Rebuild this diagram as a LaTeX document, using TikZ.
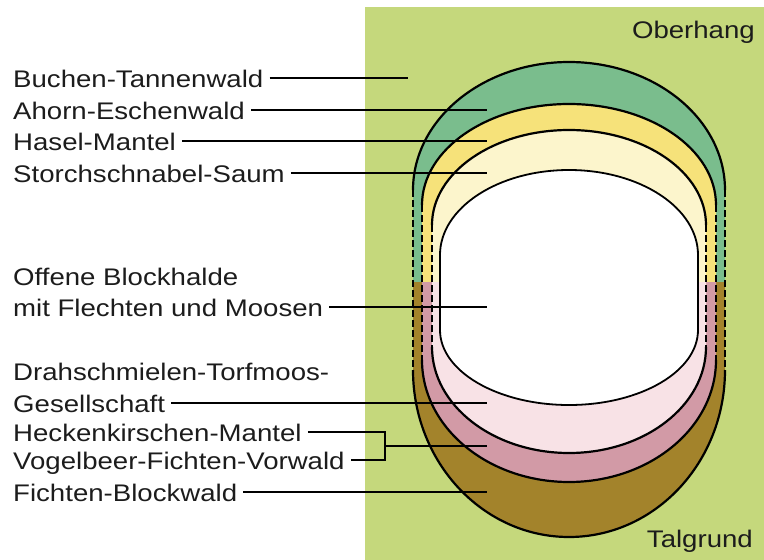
\documentclass[tikz,border=0pt]{standalone}
\usepackage{fontspec}
\setmainfont{Liberation Sans}[FakeStretch=1.15]
\usetikzlibrary{positioning}
\definecolor{slopeBg}{HTML}{C5D87C}
\definecolor{beechGreen}{HTML}{7ABD8D}
\definecolor{hazelYellow}{HTML}{F6E27A}
\definecolor{seamYellow}{HTML}{FCF5CC}
\definecolor{spruceBrown}{HTML}{A3832B}
\definecolor{rowanPink}{HTML}{D29AA6}
\definecolor{mossPink}{HTML}{F8E2E6}
\definecolor{labelInk}{HTML}{1C1C1C}
\tikzset{
  lbl/.style={anchor=base west, font=\fontsize{24}{32}\selectfont, text=labelInk, inner xsep=6pt, inner ysep=0pt, text height=18pt, text depth=0pt},
  cornerlbl/.style={anchor=base east, font=\fontsize{24}{32}\selectfont, text=labelInk, inner sep=0pt},
  leader/.style={draw=black, line width=2.4pt},
  rim/.style={draw=black, line width=2.2pt},
  rimdash/.style={rim, dash pattern=on 7pt off 3pt},
  holeline/.style={draw=black, line width=1.8pt}
}
\begin{document}
\begin{tikzpicture}[x=1pt,y=-1pt]
  \useasboundingbox (0,0) rectangle (764,560);
  \fill[slopeBg] (365,7) rectangle (764,560);
  \fill[beechGreen] (413,282) -- (413,190) arc[start angle=180,end angle=360,x radius=156,y radius=128] -- (725,282) -- cycle;
  \fill[spruceBrown] (413,282) -- (413,370) arc[start angle=180,end angle=0,x radius=156,y radius=167] -- (725,282) -- cycle;
  \fill[hazelYellow] (422,282) -- (422,205) arc[start angle=180,end angle=360,x radius=147,y radius=101] -- (716,282) -- cycle;
  \fill[rowanPink] (422,282) -- (422,360) arc[start angle=180,end angle=0,x radius=147,y radius=122] -- (716,282) -- cycle;
  \fill[seamYellow] (432,282) -- (432,225) arc[start angle=180,end angle=360,x radius=137,y radius=95] -- (706,282) -- cycle;
  \fill[mossPink] (432,282) -- (432,347) arc[start angle=180,end angle=0,x radius=137,y radius=106] -- (706,282) -- cycle;
  \filldraw[fill=white, holeline] (440,255) arc[start angle=180,end angle=360,x radius=129,y radius=85] -- (698,330) arc[start angle=0,end angle=180,x radius=129,y radius=75] -- cycle;

  \draw[rim] (413,190) arc[start angle=180,end angle=360,x radius=156,y radius=128];
  \draw[rim] (413,370) arc[start angle=180,end angle=0,x radius=156,y radius=167];
  \draw[rimdash] (413,190) -- (413,370);
  \draw[rimdash] (725,190) -- (725,370);
  \draw[rim] (422,205) arc[start angle=180,end angle=360,x radius=147,y radius=101];
  \draw[rim] (422,360) arc[start angle=180,end angle=0,x radius=147,y radius=122];
  \draw[rimdash] (422,205) -- (422,360);
  \draw[rimdash] (716,205) -- (716,360);
  \draw[rim] (432,225) arc[start angle=180,end angle=360,x radius=137,y radius=95];
  \draw[rim] (432,347) arc[start angle=180,end angle=0,x radius=137,y radius=106];
  \draw[rimdash] (432,225) -- (432,347);
  \draw[rimdash] (706,225) -- (706,347);

  \node[lbl] (buchen) at (7,87) {Buchen-Tannenwald};
  \node[lbl] (ahorn) at (7,119) {Ahorn-Eschenwald};
  \node[lbl] (hasel) at (7,150) {Hasel-Mantel};
  \node[lbl] (storch) at (7,182) {Storchschnabel-Saum};
  \node[lbl] (offen1) at (7,285) {Offene Blockhalde};
  \node[lbl] (offen) at (7,316) {mit Flechten und Moosen};
  \node[lbl] (drah1) at (7,380) {Drahschmielen-Torfmoos-};
  \node[lbl] (drah) at (7,412) {Gesellschaft};
  \node[lbl] (heck) at (7,441) {Heckenkirschen-Mantel};
  \node[lbl] (vogel) at (7,469) {Vogelbeer-Fichten-Vorwald};
  \node[lbl] (fichte) at (7,501) {Fichten-Blockwald};
  \node[cornerlbl] (ober) at (755,38) {Oberhang};
  \node[cornerlbl] (tal) at (753,547) {Talgrund};

  \coordinate (tipBuchen) at (408,78);
  \coordinate (tipAhorn) at (487,110);
  \coordinate (tipHasel) at (487,141);
  \coordinate (tipStorch) at (487,173);
  \coordinate (tipOffen) at (487,307);
  \coordinate (tipDrah) at (487,403);
  \coordinate (brk) at (385,446);
  \coordinate (tipHeck) at (487,446);
  \coordinate (tipFichte) at (487,492);

  \draw[leader] (buchen.east) -- (buchen.east -| tipBuchen);
  \draw[leader] (ahorn.east) -- (ahorn.east -| tipAhorn);
  \draw[leader] (hasel.east) -- (hasel.east -| tipHasel);
  \draw[leader] (storch.east) -- (storch.east -| tipStorch);
  \draw[leader] (offen.east) -- (offen.east -| tipOffen);
  \draw[leader] (drah.east) -- (drah.east -| tipDrah);
  \draw[leader] (heck.east) -| (brk) |- (vogel.east);
  \draw[leader] (brk) -- (tipHeck);
  \draw[leader] (fichte.east) -- (fichte.east -| tipFichte);
\end{tikzpicture}
\end{document}
